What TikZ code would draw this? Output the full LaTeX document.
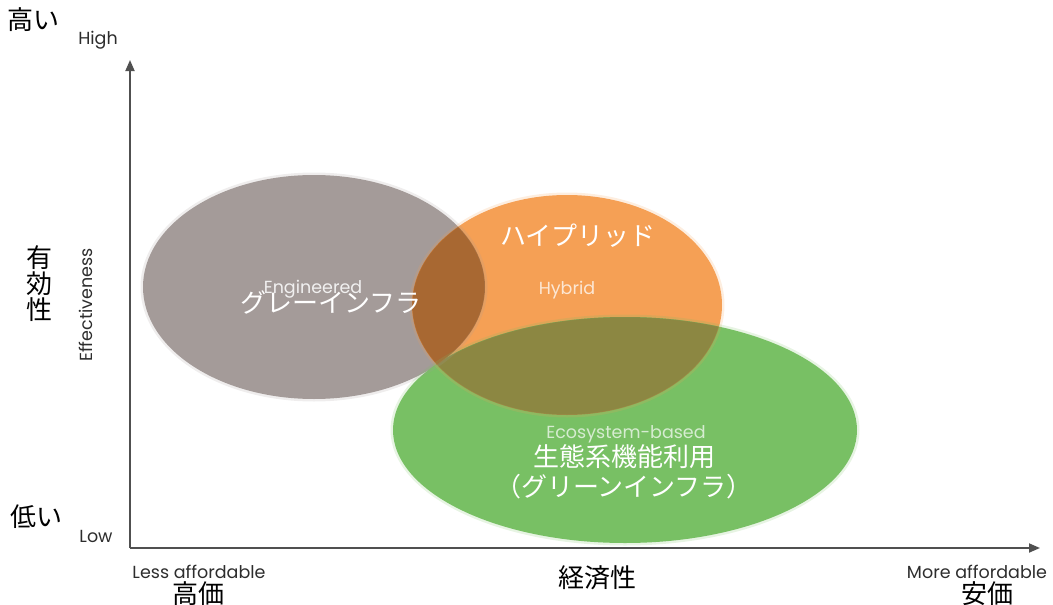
\documentclass[tikz,border=0pt]{standalone}
\usepackage{fontspec}
\setmainfont{Poppins}
\newfontfamily\jp{Noto Sans CJK JP}
\usetikzlibrary{arrows.meta}
\definecolor{cgray}{RGB}{164,155,153}
\definecolor{corange}{RGB}{245,160,85}
\definecolor{cgreen}{RGB}{120,192,100}
\definecolor{cbrown}{RGB}{168,104,50}
\definecolor{colive}{RGB}{140,135,66}
\definecolor{caxis}{RGB}{80,80,80}
\definecolor{ctext}{RGB}{45,45,45}
\tikzset{
  jplabel/.style={font=\jp\fontsize{26}{30}\selectfont, text=black, inner sep=0pt},
  enlabel/.style={font=\fontsize{17.5}{20}\selectfont, text=ctext, inner sep=0pt},
  injp/.style={font=\jp\fontsize{26}{30}\selectfont, text=white, inner sep=0pt},
  inen/.style={font=\fontsize{17.5}{20}\selectfont, inner sep=0pt},
  axisline/.style={draw=caxis, line width=1.8pt, -{Triangle[length=11pt,width=9pt]}},
  softedge/.style={line width=3pt, opacity=0.18},
}
\begin{document}
\begin{tikzpicture}[x=1pt,y=-1pt]
\useasboundingbox (0,0) rectangle (1053,605);
% ellipses
\fill[cgray] (314,287) ellipse [x radius=171, y radius=112];
\fill[corange] (567,305) ellipse [x radius=155, y radius=110];
\fill[cgreen] (625,430) ellipse [x radius=232, y radius=113];
\begin{scope}
  \clip (567,305) ellipse [x radius=155, y radius=110];
  \fill[colive] (625,430) ellipse [x radius=232, y radius=113];
\end{scope}
\begin{scope}
  \clip (567,305) ellipse [x radius=155, y radius=110];
  \fill[cbrown] (314,287) ellipse [x radius=171, y radius=112];
\end{scope}
% soft edges
\draw[cgray, softedge] (314,287) ellipse [x radius=172, y radius=113];
\draw[corange, softedge] (567,305) ellipse [x radius=156, y radius=111];
\draw[cgreen, softedge] (625,430) ellipse [x radius=233, y radius=114];
% axes
\coordinate (origin) at (130,548);
\coordinate (ytip) at (130,60);
\coordinate (xtip) at (1040,548);
\draw[axisline] (origin) -- (ytip);
\draw[axisline] (origin) -- (xtip);
% axis labels
\node[jplabel] (high jp) at (34,20) {高い};
\node[enlabel] (high) at (98,40) {High};
\node[jplabel, align=center, font=\jp\fontsize{26}{26}\selectfont] (eff jp) at (39,284) {有\\効\\性};
\node[enlabel, rotate=90] (eff) at (86,305) {Effectiveness};
\node[jplabel] (low jp) at (36,517) {低い};
\node[enlabel] (low) at (96,536) {Low};
\node[enlabel] (less) at (199,572) {Less affordable};
\node[jplabel] (less jp) at (198,594) {高価};
\node[jplabel] (econ) at (597,578) {経済性};
\node[enlabel] (more) at (977,572) {More affordable};
\node[jplabel] (more jp) at (987,594) {安価};
% inner labels
\node[inen, text=white!85!cgray] (eng) at (313,289) {Engineered};
\node[injp] (eng jp) at (331,302) {グレーインフラ};
\node[injp] (hyb jp) at (578,236) {ハイプリッド};
\node[inen, text=white!75!corange] (hyb) at (567,290) {Hybrid};
\node[inen, text=white!70!cgreen] (eco) at (626,434) {Ecosystem-based};
\node[injp] (eco jp) at (624,457) {生態系機能利用};
\node[injp] (eco jp2) at (624,487) {（グリーンインフラ）};
\end{tikzpicture}
\end{document}
